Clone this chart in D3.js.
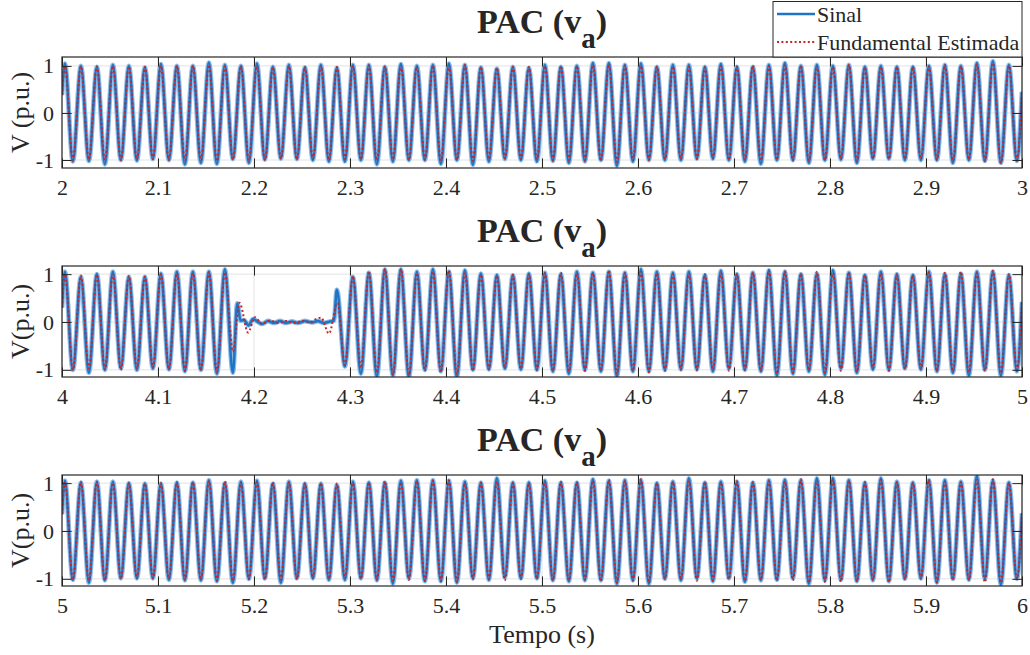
<!DOCTYPE html>
<html><head><meta charset="utf-8">
<script src="https://cdn.jsdelivr.net/npm/d3@7/dist/d3.min.js"></script>
<style>
body{margin:0;background:#fff}
svg{display:block}
text{font-family:"Liberation Serif","Times New Roman",serif;fill:#262626}
</style>
</head><body>
<svg id="c" width="1030" height="655"></svg>
<script>
// ---------- DATA ----------
const f0 = 60;            // Hz, grid frequency
const peakOffset = 0.003; // s, time of first peak after window start
const tStart = [2, 4, 5];
const yDomains = [[-1.17, 1.19], [-1.15, 1.17], [-1.15, 1.17]];
const yLabels = ["V (p.u.)", "V(p.u.)", "V(p.u.)"];
const xTicks = [
  [2, 2.1, 2.2, 2.3, 2.4, 2.5, 2.6, 2.7, 2.8, 2.9, 3],
  [4, 4.1, 4.2, 4.3, 4.4, 4.5, 4.6, 4.7, 4.8, 4.9, 5],
  [5, 5.1, 5.2, 5.3, 5.4, 5.5, 5.6, 5.7, 5.8, 5.9, 6]
];
const yTicks = [-1, 0, 1];
const seriesNames = ["Sinal", "Fundamental Estimada"];
const startVals = [0.38, 0.3, 0.35];
const endVals = [0.45, 0.42, 0.37];

// Sinal: positive peak and negative trough of each of the 60 cycles
const sinalPeaks1 = [1.05,1.0,0.98,1.02,1.0,0.97,1.04,1.0,1.0,1.07,1.02,1.0,1.05,0.98,1.02,0.97,1.02,0.96,
  1.02,1.02,0.98,1.04,1.0,1.02,1.05,1.02,0.97,0.94,0.98,0.96,1.02,0.98,1.0,1.06,1.06,1.02,1.05,0.98,1.02,
  1.02,0.98,1.04,0.98,0.98,1.02,1.06,1.0,1.02,1.0,1.02,0.98,1.0,0.98,0.98,1.0,1.02,1.0,1.06,1.1,1.02];
const sinalTroughs1 = [-1.03,-1.02,-1.09,-1.0,-1.01,-0.98,-1.0,-1.09,-1.06,-1.08,-0.98,-1.06,-0.99,-0.97,-0.98,-1.0,-1.03,-1.03,
  -1.0,-1.09,-1.03,-1.0,-1.0,-1.08,-1.0,-1.1,-1.03,-0.98,-1.0,-1.03,-1.02,-1.06,-1.03,-1.0,-1.12,-1.03,-1.0,-1.0,-1.0,
  -0.97,-0.97,-1.0,-1.03,-1.08,-1.0,-1.0,-1.06,-1.0,-0.99,-1.06,-0.97,-0.97,-1.0,-1.0,-1.0,-1.06,-1.0,-1.02,-1.06,-1.02];

const sinalPeaks2 = [1.05,0.94,1.0,1.05,0.94,0.94,1.01,1.05,1.05,1.05,1.1,
  null,null,null,null,null,null,0.67,
  0.94,1.03,1.1,1.1,1.05,1.1,1.05,1.08,1.01,0.98,0.98,1.01,1.03,1.0,1.05,1.03,1.05,1.03,1.1,1.05,1.03,
  1.05,0.98,1.07,1.0,1.03,1.08,1.05,1.0,1.01,1.08,1.03,0.98,1.05,1.0,0.98,1.05,1.0,1.01,1.05,1.05,0.98];
const sinalTroughs2 = [-1.0,-1.06,-1.0,-0.97,-1.0,-0.97,-0.99,-1.03,-1.0,-1.08,-1.06,
  null,null,null,null,null,null,-0.93,
  -1.08,-1.14,-1.12,-1.15,-1.0,-1.03,-1.15,-1.0,-0.99,-0.97,-0.99,-1.0,-1.03,-1.08,-1.0,-1.03,-1.14,-1.03,-1.03,-1.0,-0.99,
  -0.99,-1.03,-0.97,-1.0,-1.03,-1.12,-1.08,-1.03,-1.1,-0.97,-1.06,-0.99,-1.0,-0.97,-0.99,-1.03,-1.06,-1.12,-1.0,-1.12,-1.03];
// Sinal during the sag (time s, value p.u.)
const sinalSag2 = [[4.1826,0.39],[4.1859,0.03],[4.1896,0.04],[4.1943,-0.07],[4.1990,0.06],[4.2042,0.0],
  [4.2083,-0.04],[4.2146,0.02],[4.2208,-0.02],[4.2271,0.02],[4.2333,-0.02],[4.2396,0.01],[4.2458,-0.02],
  [4.2531,0.02],[4.2604,-0.01],[4.2667,0.02],[4.2729,-0.02],[4.2792,0.01],[4.2833,0.03]];

const sinalPeaks3 = [1.05,1.01,1.03,1.03,1.0,0.99,0.99,1.01,1.01,1.06,1.0,1.03,1.05,0.99,1.03,0.99,0.99,0.96,
  1.03,1.01,1.01,1.05,1.06,1.06,1.05,1.03,1.01,1.1,1.01,1.01,1.05,1.01,1.01,1.08,1.05,1.06,1.06,1.0,1.03,
  1.1,1.01,1.03,1.03,1.01,1.06,1.07,1.06,1.1,1.1,1.06,1.01,1.1,1.03,1.01,1.06,1.06,1.03,1.15,1.05,1.01];
const sinalTroughs3 = [-1.02,-1.08,-1.03,-0.99,-0.99,-0.99,-1.02,-1.03,-1.03,-1.05,-1.08,-1.0,-0.99,-1.08,-0.99,-0.99,-1.02,-1.02,
  -0.99,-1.03,-1.1,-0.99,-1.05,-1.05,-1.08,-0.99,-1.02,-0.97,-0.99,-0.99,-1.03,-1.05,-1.03,-1.03,-1.1,-1.03,-1.1,-1.0,-1.03,
  -0.99,-1.05,-0.99,-1.06,-1.03,-1.02,-0.99,-1.1,-1.03,-1.02,-1.05,-1.03,-1.05,-1.0,-0.99,-1.08,-1.0,-1.02,-1.0,-1.12,-1.0];

// Fundamental Estimada: amplitude of each cycle
const fundAmp1 = [1.0,0.99,0.99,1.0,0.99,0.98,1.0,1.0,1.0,1.02,0.99,1.0,1.0,0.97,0.99,0.98,1.0,0.98,
  0.99,1.01,0.99,1.0,0.99,1.01,1.0,1.02,0.98,0.96,0.98,0.98,1.0,1.0,1.0,1.02,1.04,1.01,1.0,0.98,0.99,
  0.98,0.97,1.0,0.99,1.01,1.0,1.01,1.01,1.0,0.98,1.02,0.97,0.98,0.98,0.98,0.99,1.02,0.99,1.02,1.06,1.0];
const fundAmp2 = [1.0,0.97,0.99,1.0,0.96,0.95,0.99,1.02,1.02,1.04,
  null,null,null,null,null,null,null,null,
  0.96,1.06,1.1,1.1,1.02,1.05,1.08,1.02,0.99,0.97,0.98,1.0,1.02,1.03,1.02,1.02,1.08,1.02,1.05,1.02,1.0,
  1.01,1.0,1.02,1.0,1.03,1.08,1.06,1.01,1.05,1.02,1.04,0.98,1.02,0.98,0.98,1.03,1.03,1.05,1.02,1.07,1.0];
const fundSag2 = [[4.1697,1.04],[4.1780,-0.62],[4.1849,0.4],[4.1938,-0.22],[4.2010,0.1],[4.2083,-0.04],
  [4.2167,0.03],[4.2250,-0.02],[4.2333,0.02],[4.2417,-0.02],[4.2500,0.02],[4.2583,-0.01],[4.2646,0.06],
  [4.2698,0.09],[4.2781,-0.24],[4.2870,0.4],[4.2947,-0.9]];
const fundAmp3 = [1.02,1.03,1.03,1.0,0.99,0.99,1.0,1.02,1.02,1.04,1.04,1.01,1.02,1.02,1.01,0.99,1.0,0.99,
  1.0,1.02,1.04,1.02,1.04,1.05,1.06,1.01,1.01,1.03,1.0,1.0,1.03,1.03,1.02,1.05,1.07,1.04,1.08,1.0,1.02,
  1.04,1.03,1.01,1.04,1.02,1.04,1.03,1.08,1.06,1.06,1.05,1.02,1.07,1.01,1.0,1.07,1.03,1.02,1.07,1.08,1.0];

const sinalPeaks = [sinalPeaks1, sinalPeaks2, sinalPeaks3];
const sinalTroughs = [sinalTroughs1, sinalTroughs2, sinalTroughs3];
const sinalExtra = [[], sinalSag2, []];
const fundAmps = [fundAmp1, fundAmp2, fundAmp3];
const fundExtra = [[], fundSag2, []];

// ---------- LAYOUT ----------
const W = 1030, H = 655;
const left = 62, right = 1022;
const panelTops = [57, 266, 475];
const panelH = 111;
const tickLen = 9.6;
const blue = "#1f74c4", blueHalo = "#8dbbe7", red = "#c4262b", axisCol = "#262626", gridCol = "#e2e2e2";
const serif = "'Liberation Serif','Times New Roman',serif";

const svg = d3.select("#c");

function buildPoints(t0, peaks, troughs, extra, v0, v1) {
  const pts = [];
  peaks.forEach((p, k) => {
    if (p != null) pts.push([t0 + peakOffset + k / f0, p]);
    const tr = troughs[k];
    if (tr != null) pts.push([t0 + peakOffset + (k + 0.5) / f0, tr]);
  });
  extra.forEach(d => pts.push(d));
  pts.sort((a, b) => a[0] - b[0]);
  pts.unshift([t0, v0]);
  pts.push([t0 + 1, v1]);
  return pts;
}

for (let i = 0; i < 3; i++) {
  const top = panelTops[i], bottom = top + panelH;
  const t0 = tStart[i];
  const x = d3.scaleLinear().domain([t0, t0 + 1]).range([left, right]);
  const y = d3.scaleLinear().domain(yDomains[i]).range([bottom, top]);
  const g = svg.append("g");

  const clipId = "clip" + i;
  svg.append("clipPath").attr("id", clipId).append("rect")
    .attr("x", left).attr("y", top).attr("width", right - left).attr("height", panelH);

  // grid
  g.append("g").selectAll("line").data(xTicks[i]).join("line")
    .attr("x1", d => x(d)).attr("x2", d => x(d)).attr("y1", top).attr("y2", bottom)
    .attr("stroke", gridCol).attr("stroke-width", 1);
  g.append("g").selectAll("line").data(yTicks).join("line")
    .attr("x1", left).attr("x2", right).attr("y1", d => y(d)).attr("y2", d => y(d))
    .attr("stroke", gridCol).attr("stroke-width", 1);

  // series
  const line = d3.line().x(d => x(d[0])).y(d => y(d[1])).curve(d3.curveMonotoneX);
  const sinalPts = buildPoints(t0, sinalPeaks[i], sinalTroughs[i], sinalExtra[i], startVals[i], endVals[i]);
  const amp = fundAmps[i];
  const fundPts = buildPoints(t0, amp, amp.map(a => a == null ? null : -a), fundExtra[i], startVals[i], endVals[i]);
  const plot = g.append("g").attr("clip-path", `url(#${clipId})`);
  plot.append("path").attr("d", line(sinalPts)).attr("fill", "none")
    .attr("stroke", blueHalo).attr("stroke-width", 4.8).attr("stroke-linejoin", "round");
  plot.append("path").attr("d", line(sinalPts)).attr("fill", "none")
    .attr("stroke", blue).attr("stroke-width", 2.6).attr("stroke-linejoin", "round");
  plot.append("path").attr("d", line(fundPts)).attr("fill", "none")
    .attr("stroke", red).attr("stroke-width", 2).attr("stroke-dasharray", "2 2.4");

  // axes
  const fmt = d3.format("~g");
  const ax = g.append("g").attr("transform", `translate(0,${bottom})`)
    .call(d3.axisBottom(x).tickValues(xTicks[i]).tickFormat(fmt).tickSize(-tickLen).tickPadding(11));
  const axT = g.append("g").attr("transform", `translate(0,${top})`)
    .call(d3.axisTop(x).tickValues(xTicks[i]).tickFormat("").tickSize(-tickLen));
  const ay = g.append("g").attr("transform", `translate(${left},0)`)
    .call(d3.axisLeft(y).tickValues(yTicks).tickFormat(fmt).tickSize(-tickLen).tickPadding(8));
  const ayR = g.append("g").attr("transform", `translate(${right},0)`)
    .call(d3.axisRight(y).tickValues(yTicks).tickFormat("").tickSize(-tickLen));
  [ax, axT, ay, ayR].forEach(a => {
    a.select(".domain").remove();
    a.selectAll(".tick line").attr("stroke", axisCol).attr("stroke-width", 1);
    a.selectAll(".tick text").attr("font-size", 22).attr("fill", axisCol).attr("font-family", serif);
  });
  ay.selectAll(".tick text").text(d => d < 0 ? "-" + Math.abs(d) : d);

  // frame
  g.append("rect").attr("x", left).attr("y", top).attr("width", right - left).attr("height", panelH)
    .attr("fill", "none").attr("stroke", axisCol).attr("stroke-width", 1.2);

  // y label
  g.append("text").attr("transform", `translate(20,${(top + bottom) / 2}) rotate(-90)`)
    .attr("text-anchor", "middle").attr("dy", "0.35em").attr("font-size", 26).text(yLabels[i]);

  // title
  const tt = g.append("text").attr("x", (left + right) / 2).attr("y", top - 24)
    .attr("text-anchor", "middle").attr("font-size", 34).attr("font-weight", "bold");
  tt.append("tspan").text("PAC (v");
  tt.append("tspan").attr("dy", 15).attr("font-size", 29).text("a");
  tt.append("tspan").attr("dy", -15).text(")");
}

// x label
svg.append("text").attr("x", (left + right) / 2).attr("y", 643).attr("text-anchor", "middle")
  .attr("font-size", 26).text("Tempo (s)");

// legend
const lg = svg.append("g");
lg.append("rect").attr("x", 773).attr("y", 1.5).attr("width", 249).attr("height", 55.5)
  .attr("fill", "#fff").attr("stroke", axisCol).attr("stroke-width", 1);
const legendRows = [
  {name: seriesNames[0], y: 14, stroke: blue, w: 2.6, dash: null},
  {name: seriesNames[1], y: 42, stroke: red, w: 2, dash: "2 2.4"}
];
legendRows.forEach(r => {
  lg.append("line").attr("x1", 777).attr("x2", 815).attr("y1", r.y).attr("y2", r.y)
    .attr("stroke", r.stroke).attr("stroke-width", r.w).attr("stroke-dasharray", r.dash);
  lg.append("text").attr("x", 817).attr("y", r.y + 7.5).attr("font-size", 22).text(r.name);
});
</script>
</body></html>
